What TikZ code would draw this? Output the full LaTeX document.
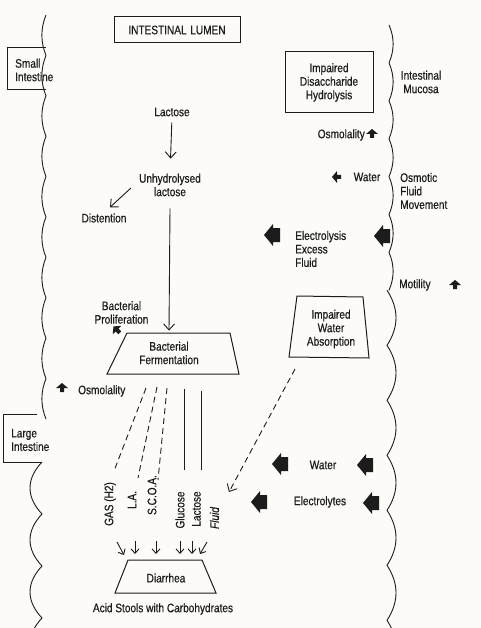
\documentclass[tikz,border=0pt]{standalone}
\usepackage{fontspec}
\setmainfont{Liberation Sans}[FakeStretch=0.82,FakeBold=0.5]
\usetikzlibrary{arrows.meta,calc}
\definecolor{ink}{RGB}{28,28,28}
\definecolor{paper}{RGB}{252,251,247}
\begin{document}
\begin{tikzpicture}[x=1pt,y=-1pt,
  every node/.style={font=\fontsize{12.3}{13.5}\selectfont, text=ink, inner sep=0pt},
  ln/.style={draw=ink, line width=0.9pt},
  arr/.style={ln, -{Straight Barb[length=6pt,width=11pt]}},
  sarr/.style={ln, -{Straight Barb[length=4.5pt,width=8pt]}},
  dsh/.style={ln, dash pattern=on 6pt off 4pt},
  box/.style={draw=ink, line width=1pt},
  bigarrow/.pic={\fill[ink] (0,0) -- (9,-11) -- (9,-7) -- (16,-7) -- (16,7) -- (9,7) -- (9,11) -- cycle;},
  uparrow/.pic={\fill[ink] (0,-5) -- (6,0) -- (2,0) -- (2,4) -- (-2,4) -- (-2,0) -- (-6,0) -- cycle;},
]
\fill[paper] (0,0) rectangle (480,628);
\useasboundingbox (0,0) rectangle (480,628);
\clip (0,0) rectangle (480,628);

% ---- wavy borders ----
\draw[ln] (46,15) foreach \i in {1,...,10} { .. controls +(-5.5,13.5) and +(-5.5,-13.5) .. ++(0,40.4) };
\draw[ln] (42,462) foreach \i in {1,...,4} { .. controls +(-16,17) and +(-16,-17) .. ++(0,52) };
\draw[ln] (389,25) foreach \i in {1,...,7} { .. controls +(5.5,12.6) and +(5.5,-12.6) .. ++(0,37.9) };
\draw[ln] (387,290.3) foreach \i in {1,...,7} { .. controls +(12,18.3) and +(12,-18.3) .. ++(0,55) };

% ---- side boxes ----
\draw[box] (46,48) -- (7,48) -- (7,90) -- (46,90);
\node[anchor=west, align=left] (small) at (15,70) {Small\\Intestine};
\draw[box] (37,414) -- (3,414) -- (3,462) -- (42,462);
\node[anchor=west, align=left] (large) at (11,440) {Large\\Intestine};

% ---- top boxes ----
\node[box, minimum width=126pt, minimum height=26pt] (lumen) at (177,30) {INTESTINAL\hspace{0.3em}LUMEN};
\node[box, minimum width=88pt, minimum height=61pt, align=center] (idh) at (329,82.5) {Impaired\\Disaccharide\\Hydrolysis};
\node[align=center] (muc) at (421,82) {Intestinal\\Mucosa};

% ---- central chain ----
\node (lac) at (172,112) {Lactose};
\node[align=center] (unh) at (170,185) {Unhydrolysed\\lactose};
\node (dist) at (104,218) {Distention};
\draw[arr, shorten <=6pt, shorten >=15pt] (lac.south) -- (unh.north);
\draw[arr] ($(unh.west)+(-8,3)$) -- ($(dist.north)+(6,-6)$);

\node[align=center] (prol) at (121.5,312.5) {Bacterial\\Proliferation};
\pic[rotate=45] at (117,330) {uparrow};

\coordinate (ftl) at (127,333); \coordinate (ftr) at (230,333);
\coordinate (fbr) at (239,374); \coordinate (fbl) at (107,374);
\draw[box] (ftl) -- (ftr) -- (fbr) -- (fbl) -- cycle;
\node[align=center] (ferm) at (169,353) {Bacterial\\Fermentation};
\draw[arr] ($(unh.south)+(0,12)$) -- ($(ferm.north)+(0,-11)$);

\pic at (62,388) {uparrow};
\node[anchor=west] (osml) at (78,391) {Osmolality};

% ---- products ----
\node[rotate=90] (gas) at (110,504) {GAS (H2)};
\node[rotate=90] (la) at (132,500) {L.A.};
\node[rotate=90] (scoa) at (152,495) {S.C.O.A.};
\node[rotate=90] (glu) at (180,510) {Glucose};
\node[rotate=90] (lcs) at (196.5,509) {Lactose};
\node[rotate=90, font=\fontsize{12.3}{13.5}\selectfont\itshape] (fluid) at (214.5,518) {Fluid};

\draw[dsh] (146,388) -- (114,471);
\draw[dsh] (157,387) -- (138,478);
\draw[dsh] (167,388) -- (158,480);
\draw[ln] (184,389) -- (184,470);
\draw[ln] (201,391) -- (201,470);

\coordinate (dtl) at (128,560); \coordinate (dtr) at (202,560);
\coordinate (dbr) at (216,593); \coordinate (dbl) at (115,593);
\draw[box] (dtl) -- (dtr) -- (dbr) -- (dbl) -- cycle;
\node (diar) at (166,578) {Diarrhea};
\node (acid) at (163,609) {Acid Stools with Carbohydrates};

\draw[sarr] (117,542) -- (124,555);
\draw[sarr] (135,541) -- (135,554);
\draw[sarr] (156,541) -- (156,554);
\draw[sarr] (180,541) -- (180,554);
\draw[sarr] (192,541) -- (192,554);
\draw[sarr] (207,542) -- (200,554);

% ---- right side ----
\node[anchor=east] (osmr) at (365,135) {Osmolality};
\pic at (372,134) {uparrow};
\pic[rotate=90] at (337,177) {uparrow};
\node (wat1) at (367,177) {Water};
\node[anchor=west, align=left] (ofm) at (400,191) {Osmotic\\Fluid\\Movement};

\pic at (264,235) {bigarrow};
\pic at (374,236) {bigarrow};
\node[anchor=west, align=left] (elx) at (295,249) {Electrolysis\\Excess\\Fluid};

\node[anchor=west] (mot) at (399,285) {Motility};
\pic at (455,285) {uparrow};

\coordinate (wtl) at (297,296); \coordinate (wtr) at (363,297);
\coordinate (wbr) at (369,358); \coordinate (wbl) at (289,357);
\draw[box] (wtl) -- (wtr) -- (wbr) -- (wbl) -- cycle;
\node[align=center] (iwa) at (331,329) {Impaired\\Water\\Absorption};
\coordinate (iwas) at (295,369);
\coordinate (iwae) at (229,492);
\draw[dsh, -{Straight Barb[length=6pt,width=11pt]}] (iwas) -- (iwae);

\pic at (272,464) {bigarrow};
\node (wat2) at (323,465) {Water};
\pic at (357,465) {bigarrow};

\pic at (251,502) {bigarrow};
\node (ely) at (320,502) {Electrolytes};
\pic at (363,503) {bigarrow};
\end{tikzpicture}
\end{document}
